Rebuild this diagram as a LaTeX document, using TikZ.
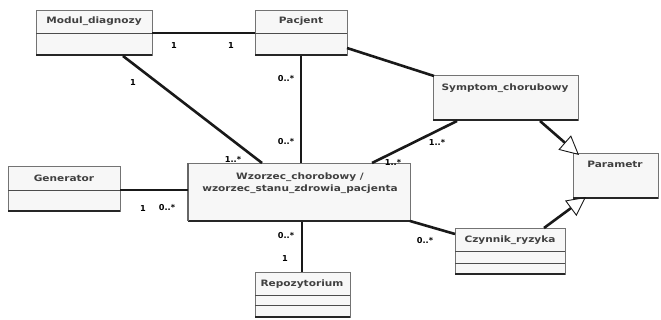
\documentclass[tikz,border=0pt]{standalone}
\usepackage{fontspec}
\setmainfont{DejaVu Sans}
\newfontfamily\ttlfont{DejaVu Sans}[FakeStretch=1.2]
\usetikzlibrary{arrows.meta}
\begin{document}
\begin{tikzpicture}[x=1pt,y=-1pt,
  clsbox/.style={draw=black!55, line width=0.8pt, fill=black!3},
  clsbot/.style={line width=2.2pt, black!85},
  clsdiv/.style={draw=black!70, line width=0.8pt},
  ttl/.style={font=\ttlfont\fontsize{8.8}{10}\selectfont\bfseries, text=black!75, inner sep=0pt},
  mult/.style={font=\fontsize{8.2}{9}\selectfont\bfseries, inner sep=0pt},
  assoc/.style={line width=2.6pt, black!90},
  gen/.style={line width=2.6pt, black!90, -{Triangle[open, length=19pt, width=19pt, line width=0.9pt]}}]
\useasboundingbox (0,0) rectangle (661,320);

% ---------- classes ----------
% Modul_diagnozy
\draw[clsbox] (36,10) rectangle (152,55);
\draw[clsdiv] (36,33) -- (152,33);
\draw[clsbot] (36,55) -- (152,55);
\node[ttl] (modt) at (94,21) {Modul\_diagnozy};
\coordinate (modR) at (152,33);
\coordinate (modB) at (123,56);

% Pacjent
\draw[clsbox] (255,10) rectangle (347,55);
\draw[clsdiv] (255,33) -- (347,33);
\draw[clsbot] (255,55) -- (347,55);
\node[ttl] (pact) at (301,21) {Pacjent};
\coordinate (pacL) at (255,33);
\coordinate (pacB) at (301,56);
\coordinate (pacR) at (347,48);

% Symptom_chorobowy
\draw[clsbox] (433,75) rectangle (578,120);
\draw[clsbot] (433,120) -- (578,120);
\node[ttl] (symt) at (505,88) {Symptom\_chorubowy};
\coordinate (symTL) at (434,76);
\coordinate (symB1) at (457,121);
\coordinate (symB2) at (540,121);

% Parametr
\draw[clsbox] (573,153) rectangle (658,198);
\draw[clsbot] (573,198) -- (658,198);
\node[ttl] (part) at (615,164) {Parametr};
\coordinate (parTL) at (579,155);
\coordinate (parBL) at (586,197);

% Generator
\draw[clsbox] (8,166) rectangle (120,211);
\draw[clsdiv] (8,190) -- (120,190);
\draw[clsbot] (8,211) -- (120,211);
\node[ttl] (gent) at (64,178) {Generator};
\coordinate (genR) at (120,190);

% Wzorzec chorobowy
\draw[clsbox] (188,163) rectangle (410,221);
\draw[clsbot] (188,221) -- (410,221);
\draw[line width=1.6pt, black!60] (188,163) -- (188,221);
\node[ttl, align=center, font=\ttlfont\fontsize{8.8}{12.5}\selectfont\bfseries] (cent) at (300,183) {Wzorzec\_chorobowy /\\wzorzec\_stanu\_zdrowia\_pacjenta};
\coordinate (cenTL) at (262,163);
\coordinate (cenT) at (301,163);
\coordinate (cenTR) at (372,163);
\coordinate (cenL) at (188,190);
\coordinate (cenB) at (302,222);
\coordinate (cenBR) at (410,221);

% Czynnik_ryzyka
\draw[clsbox] (455,228) rectangle (565,274);
\draw[clsdiv] (455,251) -- (565,251);
\draw[clsdiv] (455,263) -- (565,263);
\draw[clsbot] (455,274) -- (565,274);
\node[ttl] (czyt) at (510,240) {Czynnik\_ryzyka};
\coordinate (czyL) at (455,234);
\coordinate (czyT) at (544,228);

% Repozytorium
\draw[clsbox] (255,272) rectangle (350,317);
\draw[clsdiv] (255,295) -- (350,295);
\draw[clsdiv] (255,305) -- (350,305);
\draw[clsbot] (255,317) -- (350,317);
\node[ttl] (rept) at (302,284) {Repozytorium};
\coordinate (repT) at (302,272);

% ---------- connectors ----------
\draw[assoc] (modR) -- (pacL);
\draw[assoc] (modB) -- (cenTL);
\draw[assoc] (pacB) -- (cenT);
\draw[assoc] (pacR) -- (symTL);
\draw[assoc] (symB1) -- (cenTR);
\draw[assoc] (genR) -- (cenL);
\draw[assoc] (cenB) -- (repT);
\draw[assoc] (cenBR) -- (czyL);
\draw[gen] (symB2) -- (parTL);
\draw[gen] (czyT) -- (parBL);

% ---------- multiplicities ----------
\node[mult] (m1) at (174,46) {1};
\node[mult] (m2) at (231,46) {1};
\node[mult] (m3) at (133,83) {1};
\node[mult] (m4) at (286,79) {0..*};
\node[mult] (m5) at (286,142) {0..*};
\node[mult] (m6) at (233,159) {1..*};
\node[mult] (m7) at (437,142) {1..*};
\node[mult] (m8) at (393,162) {1..*};
\node[mult] (m9) at (143,209) {1};
\node[mult] (m10) at (167,208) {0..*};
\node[mult] (m11) at (286,236) {0..*};
\node[mult] (m12) at (285,259) {1};
\node[mult] (m13) at (425,241) {0..*};
\end{tikzpicture}
\end{document}
